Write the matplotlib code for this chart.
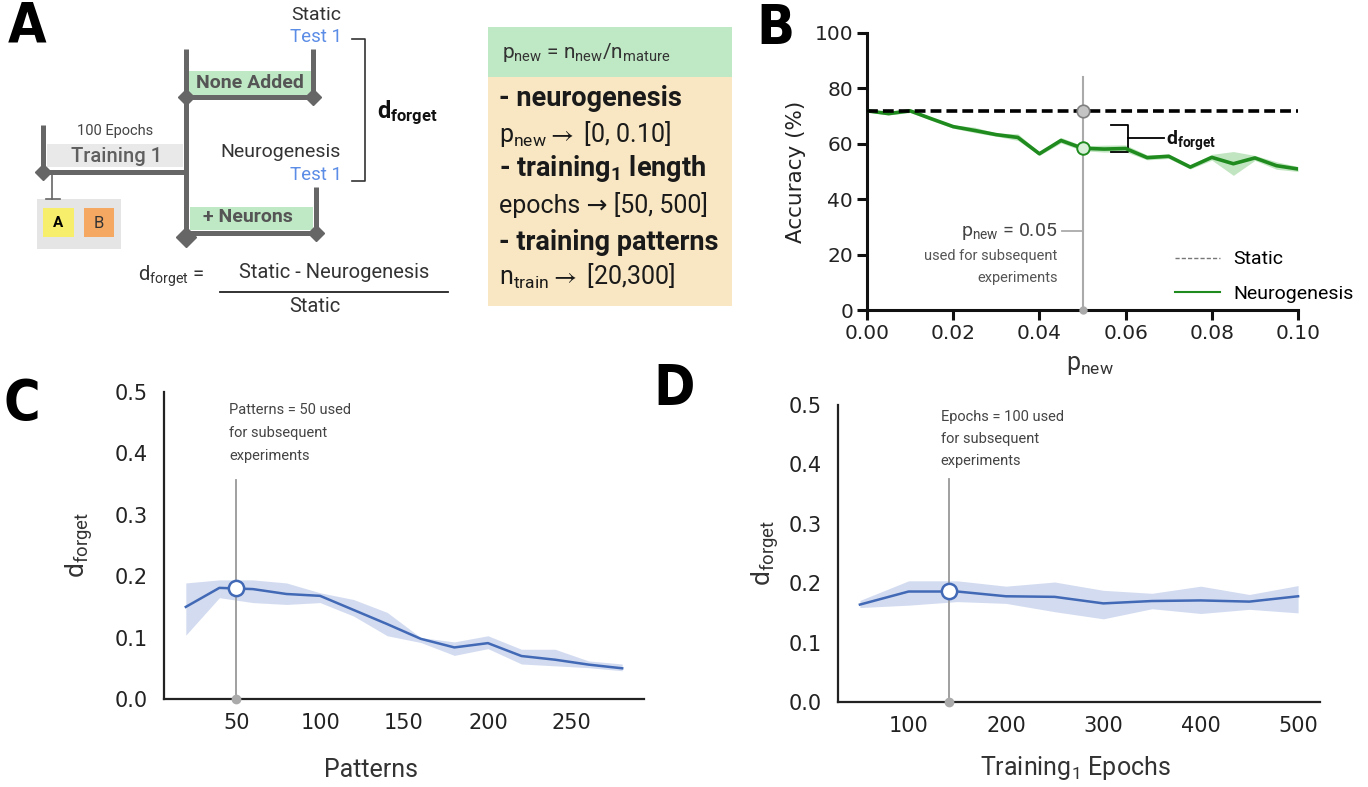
import matplotlib
matplotlib.use('Agg')
from matplotlib import pyplot as plt
from matplotlib.lines import Line2D
from matplotlib.patches import Rectangle

plt.rcParams['font.family'] = ['Roboto', 'DejaVu Sans']
plt.rcParams['mathtext.fontset'] = 'custom'
plt.rcParams['mathtext.rm'] = 'Roboto'
plt.rcParams['mathtext.bf'] = 'Roboto:bold'
plt.rcParams['mathtext.it'] = 'Roboto:italic'
plt.rcParams['mathtext.default'] = 'rm'
plt.rcParams['mathtext.fallback'] = 'stixsans'

# panel B: accuracy vs proportion of new neurons
p_new = [0.000, 0.005, 0.010, 0.015, 0.020, 0.025, 0.030, 0.035, 0.040, 0.045, 0.050,
         0.055, 0.060, 0.065, 0.070, 0.075, 0.080, 0.085, 0.090, 0.095, 0.100]
acc_neuro = [71.9, 70.9, 71.9, 69.0, 66.2, 64.8, 63.3, 62.3, 56.4, 61.2, 58.4,
             58.1, 58.3, 55.0, 55.5, 51.6, 55.1, 52.8, 54.9, 52.1, 50.9]
acc_hi = [72.3, 71.4, 72.5, 69.6, 66.8, 66.0, 63.9, 63.6, 57.0, 62.3, 59.3,
          59.5, 59.6, 56.0, 56.3, 52.3, 56.2, 57.2, 55.8, 53.5, 51.8]
acc_lo = [71.5, 70.4, 71.3, 68.4, 65.6, 64.0, 62.7, 61.2, 55.8, 60.3, 57.5,
          57.0, 57.1, 54.2, 54.7, 50.9, 54.1, 48.6, 54.0, 50.8, 50.0]
acc_static = 72.0
p_chosen = 0.05
acc_chosen_neuro = 58.4

# panel C: d_forget vs number of training patterns
patterns = [20, 40, 60, 80, 100, 120, 140, 160, 180, 200, 220, 240, 260, 280]
dforget_pat = [0.150, 0.181, 0.179, 0.171, 0.168, 0.145, 0.122, 0.098, 0.084, 0.091,
               0.070, 0.064, 0.056, 0.050]
dforget_pat_hi = [0.189, 0.194, 0.194, 0.189, 0.173, 0.162, 0.141, 0.100, 0.093, 0.103,
                  0.081, 0.081, 0.062, 0.057]
dforget_pat_lo = [0.104, 0.165, 0.157, 0.154, 0.157, 0.135, 0.103, 0.092, 0.071, 0.082,
                  0.057, 0.054, 0.051, 0.046]
pat_chosen = 50
pat_chosen_val = 0.180

# panel D: d_forget vs training_1 epochs
epochs = [50, 100, 150, 200, 250, 300, 350, 400, 450, 500]
dforget_ep = [0.164, 0.186, 0.186, 0.178, 0.177, 0.166, 0.170, 0.171, 0.169, 0.178]
dforget_ep_hi = [0.171, 0.204, 0.204, 0.195, 0.202, 0.188, 0.183, 0.195, 0.181, 0.196]
dforget_ep_lo = [0.159, 0.163, 0.169, 0.166, 0.152, 0.140, 0.157, 0.149, 0.156, 0.150]
ep_chosen = 141
ep_chosen_val = 0.187

W, H = 1368, 787
BAR = '#666666'
GREEN_BOX = '#bfe8c4'
TAN = '#f8e7c2'
BLUE_TXT = '#5b8ce6'
NEURO = '#1f8b1f'
BLUE = '#4169b5'
BLUE_BAND = '#b6c4e6'

fig = plt.figure(figsize=(W / 100, H / 100), dpi=100)

# ---------- panel A (diagram, drawn in pixel coordinates) ----------
ax0 = fig.add_axes([0, 0, 1, 1], zorder=0)
ax0.set_xlim(0, W)
ax0.set_ylim(H, 0)
ax0.axis('off')


def bar(xs, ys, lw=3.6):
    ax0.plot(xs, ys, color=BAR, lw=lw, solid_capstyle='butt')


def diamond(x, y, ms=8):
    ax0.plot(x, y, marker='D', ms=ms, color=BAR, mec=BAR)


def box(x0, y0, x1, y1, fc):
    ax0.add_patch(Rectangle((x0, y0), x1 - x0, y1 - y0, fc=fc, ec='none'))


# training 1 branch
box(47, 144, 183, 167, '#e9e9e9')
ax0.text(115, 131, '100 Epochs', fontsize=10.5, color='#444444', ha='center', va='center')
ax0.text(117, 156, 'Training 1', fontsize=14.5, color='#5f5f5f', ha='center', va='center',
         fontweight='medium')
bar([43, 43], [125, 172])
bar([43, 186], [172, 172])
diamond(43, 172)
ax0.plot([52, 52], [172, 199], color=BAR, lw=1.2)
ax0.plot([46, 60], [199, 199], color=BAR, lw=1.2)
box(37, 199, 121, 249, '#e5e5e5')
box(43, 208, 74, 237, '#f7ee6b')
box(84, 208, 114, 237, '#f5a862')
ax0.text(58.5, 223, 'A', fontsize=11, fontweight='bold', color='black', ha='center', va='center')
ax0.text(99, 223, 'B', fontsize=12, color='#333333', ha='center', va='center')

# static / neurogenesis branches
bar([186, 186], [49, 237])
box(188, 71, 312, 95, GREEN_BOX)
bar([186, 313], [97, 97])
bar([313, 313], [49, 97])
diamond(186, 97)
diamond(313, 97)
ax0.text(250, 83, 'None Added', fontsize=14, fontweight='bold', color='#555555',
         ha='center', va='center')
box(190, 207, 313, 230, GREEN_BOX)
bar([186, 316], [233, 233])
bar([316, 316], [187, 233])
diamond(186, 237, ms=10)
diamond(316, 233)
ax0.text(248, 217, '+ Neurons', fontsize=14, fontweight='bold', color='#555555',
         ha='center', va='center')

ax0.text(316, 15, 'Static', fontsize=14, color='#333333', ha='center', va='center')
ax0.text(342, 37, 'Test 1', fontsize=13.5, color=BLUE_TXT, ha='right', va='center')
ax0.text(281, 152, 'Neurogenesis', fontsize=14, color='#333333', ha='center', va='center')
ax0.text(342, 175, 'Test 1', fontsize=13.5, color=BLUE_TXT, ha='right', va='center')
ax0.plot([352, 365, 365, 352], [39, 39, 181, 181], color='#333333', lw=1.2)
ax0.text(377, 113, r'$\mathbf{d_{forget}}$', fontsize=17, color='#111111',
         ha='left', va='center')

# formula
ax0.text(205, 276, r'$\mathrm{d_{forget}}$ =', fontsize=14.5, color='#333333',
         ha='right', va='center')
ax0.text(334, 273, 'Static - Neurogenesis', fontsize=14.5, color='#333333',
         ha='center', va='center')
ax0.plot([220, 448], [292, 292], color='#222222', lw=1.3)
ax0.text(315, 307, 'Static', fontsize=14.5, color='#333333', ha='center', va='center')

# parameter box
box(488, 27, 732, 77, GREEN_BOX)
box(488, 77, 732, 306, TAN)
ax0.text(502, 53, r'$\mathrm{p_{new}}$ = $\mathrm{n_{new}}$/$\mathrm{n_{mature}}$',
         fontsize=15, color='#333333', ha='left', va='center')
box_lines = [
    ('- neurogenesis', 'bold', 19.5, 98),
    (r'$\mathrm{p_{new}}\rightarrow$ [0, 0.10]', 'normal', 18, 134),
    (r'- training$_\mathbf{1}$ length', 'bold', 19.5, 168),
    ('epochs → [50, 500]', 'normal', 18, 205),
    ('- training patterns', 'bold', 19.5, 242),
    (r'$\mathrm{n_{train}}\rightarrow$ [20,300]', 'normal', 18, 276),
]
for txt, weight, size, y in box_lines:
    ax0.text(499, y, txt, fontsize=size, fontweight=weight, color='#1a1a1a',
             ha='left', va='center')

# panel letters
for letter, x, y in [('A', 8, 27), ('B', 756, 29), ('C', 4, 404), ('D', 653, 389)]:
    ax0.text(x, y, letter, fontsize=40, fontweight='heavy', fontstretch='condensed',
             family='DejaVu Sans', color='black', ha='left', va='center')

# ---------- panel B ----------
axB = fig.add_axes([867 / W, 1 - 310 / H, 431 / W, 277 / H])
axB.fill_between(p_new, acc_lo, acc_hi, color='#8fd18f', alpha=0.55, lw=0)
axB.plot(p_new, acc_neuro, color=NEURO, lw=2.6, zorder=3)
axB.plot([p_new[0], p_new[-1]], [acc_static, acc_static], color='black', lw=2.6,
         ls=(0, (3, 1.4)), zorder=3)
axB.plot([p_chosen, p_chosen], [0, 84], color='#aaaaaa', lw=1.5, zorder=2)
axB.plot(p_chosen, acc_static, 'o', ms=9, mfc='#c4c4c4', mec='#808080', mew=1.2, zorder=4)
axB.plot(p_chosen, acc_chosen_neuro, 'o', ms=9, mfc='#d8f0d8', mec=NEURO, mew=1.4, zorder=4)
axB.plot(p_chosen, 0, 'o', ms=5, color='#aaaaaa', clip_on=False, zorder=4)
axB.plot([0.0452, p_chosen], [28.5, 28.5], color='#aaaaaa', lw=1.3)
axB.text(0.0442, 28.5, r'$\mathrm{p_{new}}$ = 0.05', fontsize=14, color='#444444',
         ha='right', va='center')
axB.text(0.0442, 19.5, 'used for subsequent', fontsize=10.5, color='#555555',
         ha='right', va='center')
axB.text(0.0442, 11.7, 'experiments', fontsize=10.5, color='#555555',
         ha='right', va='center')
axB.plot([0.0566, 0.0606, 0.0606, 0.0566], [66.8, 66.8, 57, 57], color='black', lw=1.3)
axB.plot([0.0606, 0.069], [62, 62], color='black', lw=1.3)
axB.text(0.0693, 61, r'$\mathbf{d_{forget}}$', fontsize=14, color='#111111',
         ha='left', va='center')

handles = [Line2D([], [], color='#777777', lw=1, ls=(0, (3, 1.5))),
           Line2D([], [], color=NEURO, lw=1.5)]
axB.legend(handles, ['Static', 'Neurogenesis'], loc='upper left',
           bbox_to_anchor=(0.715, 0.215), frameon=False, fontsize=14,
           handlelength=2.3, handletextpad=0.7, labelspacing=0.86,
           borderpad=0, borderaxespad=0)

axB.set_xlim(0, 0.1)
axB.set_ylim(0, 100)
axB.set_xticks([0.00, 0.02, 0.04, 0.06, 0.08, 0.10])
axB.set_xticklabels(['{:.2f}'.format(v) for v in [0.00, 0.02, 0.04, 0.06, 0.08, 0.10]])
axB.set_yticks([0, 20, 40, 60, 80, 100])
for side in ['top', 'right']:
    axB.spines[side].set_visible(False)
for side in ['left', 'bottom']:
    axB.spines[side].set_linewidth(2.2)
    axB.spines[side].set_color('#111111')
axB.tick_params(direction='out', length=7, width=2.2, color='#111111',
                labelsize=14.5, pad=3, labelcolor='#222222')
for lab in axB.get_xticklabels() + axB.get_yticklabels():
    lab.set_family('DejaVu Sans')
axB.set_ylabel('Accuracy (%)', fontsize=15.5, family='DejaVu Sans', color='#222222', va='center')
axB.yaxis.set_label_coords(-0.165, 0.5)
axB.set_xlabel(r'$\mathrm{p_{new}}$', fontsize=18, color='#333333', va='center')
axB.xaxis.set_label_coords(0.517, -0.2)


# ---------- panels C and D ----------
def dforget_panel(rect, x, y, lo, hi, xc, yc, vtop, note_x, note_y, note, xticks, xlabel,
                  ylab_x, xlab_xy):
    ax = fig.add_axes(rect)
    ax.fill_between(x, lo, hi, color=BLUE_BAND, alpha=0.6, lw=0)
    ax.plot(x, y, color=BLUE, lw=1.8, zorder=3)
    ax.plot([xc, xc], [0, vtop], color='#999999', lw=1.3, zorder=2)
    ax.plot(xc, 0, 'o', ms=6, color='#aaaaaa', clip_on=False, zorder=4)
    ax.plot(xc, yc, 'o', ms=11, mfc='white', mec=BLUE, mew=1.8, zorder=4)
    for i, line in enumerate(note):
        ax.text(note_x, note_y - i * 0.037, line, fontsize=10.5, color='#444444',
                ha='left', va='center')
    ax.set_ylim(0, 0.5)
    ax.set_xticks(xticks)
    ax.set_yticks([0.0, 0.1, 0.2, 0.3, 0.4, 0.5])
    ax.set_yticklabels(['{:.1f}'.format(v) for v in [0.0, 0.1, 0.2, 0.3, 0.4, 0.5]])
    for side in ['top', 'right']:
        ax.spines[side].set_visible(False)
    for side in ['left', 'bottom']:
        ax.spines[side].set_linewidth(1.6)
        ax.spines[side].set_color('#222222')
    ax.tick_params(axis='y', length=0, labelsize=15, pad=12, labelcolor='#222222')
    ax.tick_params(axis='x', length=0, labelsize=15, pad=10, labelcolor='#222222')
    for lab in ax.get_xticklabels() + ax.get_yticklabels():
        lab.set_family('DejaVu Sans')
    ax.set_ylabel(r'$\mathrm{d_{forget}}$', fontsize=19, color='#333333', va='center')
    ax.yaxis.set_label_coords(ylab_x, 0.5)
    ax.set_xlabel(xlabel, fontsize=18, color='#333333', va='center')
    ax.xaxis.set_label_coords(*xlab_xy)
    return ax


dforget_panel([164 / W, 1 - 699 / H, 480 / W, 307 / H], patterns, dforget_pat,
              dforget_pat_lo, dforget_pat_hi, pat_chosen, pat_chosen_val, 0.357,
              46, 0.470, ['Patterns = 50 used', 'for subsequent', 'experiments'],
              [50, 100, 150, 200, 250], 'Patterns', -0.177, (0.431, -0.231))

dforget_panel([838 / W, 1 - 702 / H, 482 / W, 297 / H], epochs, dforget_ep,
              dforget_ep_lo, dforget_ep_hi, ep_chosen, ep_chosen_val, 0.375,
              133, 0.480, ['Epochs = 100 used', 'for subsequent', 'experiments'],
              [100, 200, 300, 400, 500], r'Training$_1$ Epochs', -0.151, (0.492, -0.222))

fig.savefig('out.png', dpi=100, facecolor='white')
